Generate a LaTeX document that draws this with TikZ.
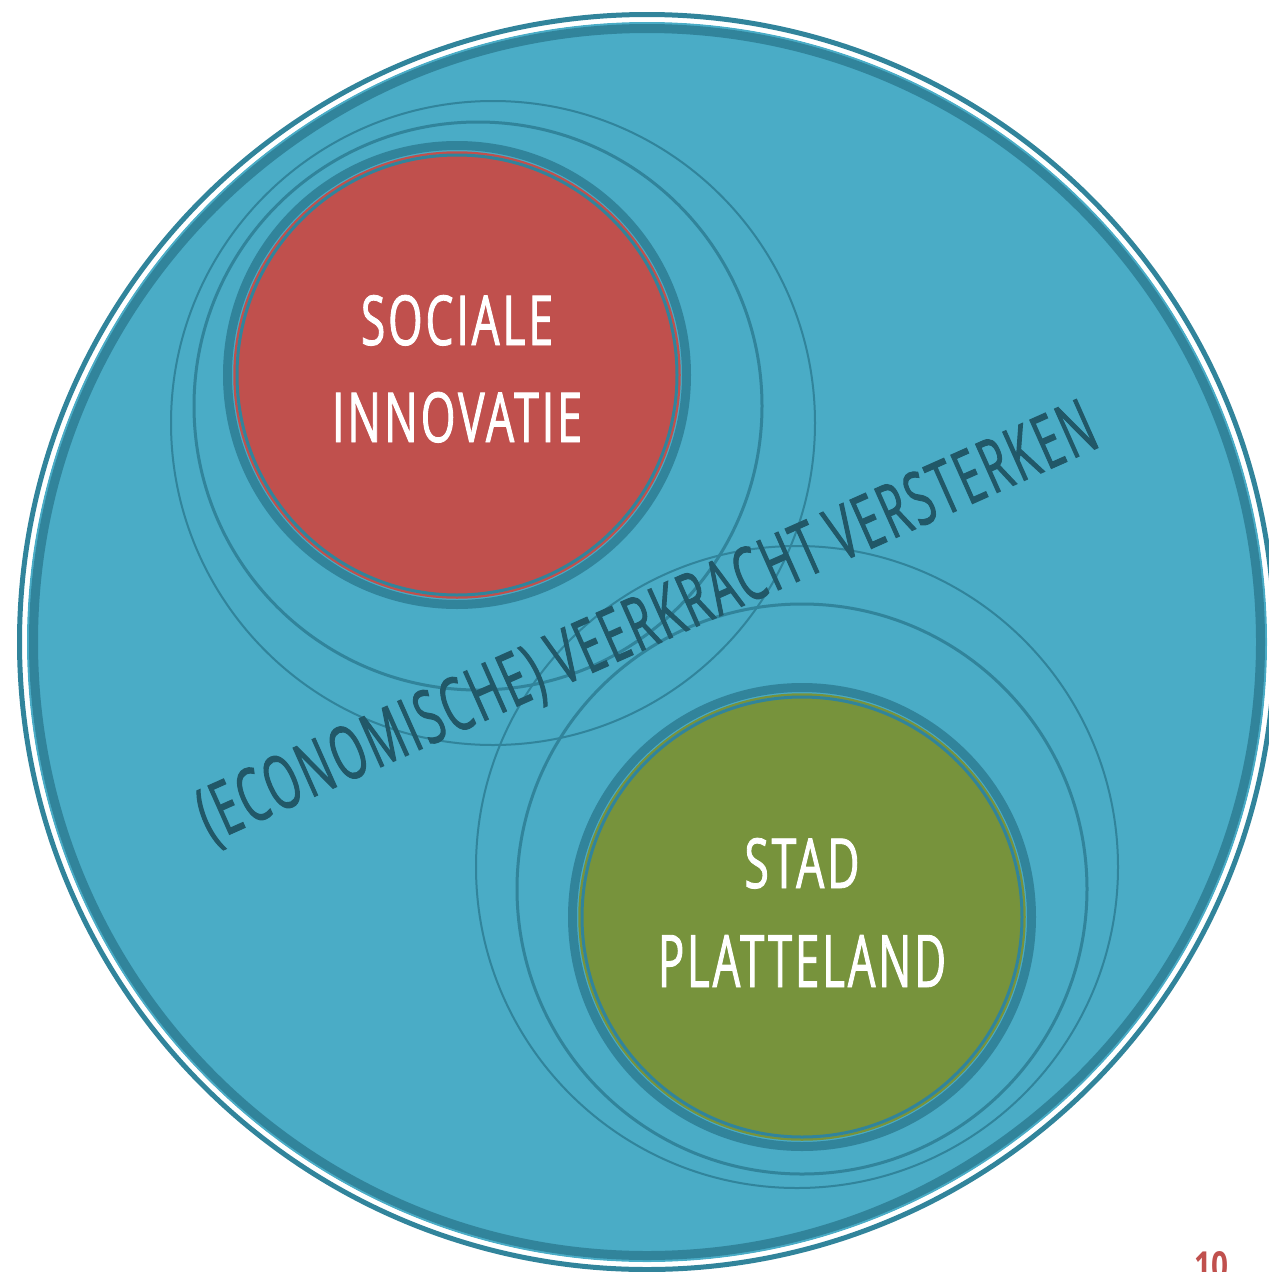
\documentclass[tikz,border=0pt]{standalone}
\usepackage{fontspec}
\setmainfont{Open Sans}
\newfontfamily\condfont[FakeStretch=0.6,LetterSpace=4,FakeBold=1.2]{Open Sans}
\newfontfamily\rotfont[FakeStretch=0.58,LetterSpace=4,FakeBold=1.3]{Open Sans}
\newfontfamily\pagefont[FakeStretch=0.8]{Open Sans}
\usepackage{graphicx}
\definecolor{aqua}{HTML}{4AACC6}
\definecolor{aquadark}{HTML}{31849B}
\definecolor{redfill}{HTML}{C0504D}
\definecolor{greenfill}{HTML}{77933C}
\definecolor{textteal}{HTML}{215868}
\tikzset{
  ring/.style={draw=aquadark, line width=#1},
  label/.style={inner sep=0pt, outer sep=0pt, text=white, anchor=base},
}
\begin{document}
\begin{tikzpicture}[x=1pt,y=-1pt]
\useasboundingbox (0,0) rectangle (1269,1272);
\clip (0,0) rectangle (1269,1272);
% big circle
\coordinate (big) at (647,642);
\fill[aqua] (big) circle[radius=620pt];
\draw[ring=9pt] (big) circle[radius=613.5pt];
\draw[white, line width=4pt] (big) circle[radius=622.5pt];
\draw[ring=5pt] (big) circle[radius=627.5pt];
% thin outer circles
\draw[ring=3pt] (478,406) circle[radius=284pt];
\draw[ring=2pt] (493,423) circle[radius=322pt];
\draw[ring=3pt] (802,889) circle[radius=285pt];
\draw[ring=2pt] (797,867) circle[radius=321pt];
% red circle
\coordinate (soc) at (457,375);
\draw[ring=9pt] (soc) circle[radius=229.5pt];
\draw[redfill, line width=2.5pt] (soc) circle[radius=222.5pt];
\fill[redfill] (soc) circle[radius=219pt];
\draw[aquadark, line width=3pt] (soc) circle[radius=220pt];
% green circle
\coordinate (stad) at (802,917);
\draw[ring=9pt] (stad) circle[radius=229.5pt];
\draw[greenfill, line width=2.5pt] (stad) circle[radius=222.5pt];
\fill[greenfill] (stad) circle[radius=219pt];
\draw[aquadark, line width=3pt] (stad) circle[radius=220pt];
% labels
\node[label] (l1) at (457,345) {\resizebox{192pt}{50pt}{\condfont SOCIALE}};
\node[label] (l2) at (457,442) {\resizebox{250pt}{50pt}{\condfont INNOVATIE}};
\node[label] (l3) at (802,888) {\resizebox{115pt}{50pt}{\condfont STAD}};
\node[label] (l4) at (802,987) {\resizebox{288pt}{52pt}{\condfont PLATTELAND}};
\node[inner sep=0pt, text=textteal, rotate=24] (main) at (648,625)
  {\resizebox{975pt}{54pt}{\rotfont (ECONOMISCHE) VEERKRACHT VERSTERKEN}};
\node[inner sep=0pt, text=redfill, anchor=north west] (pg) at (1194,1251)
  {\resizebox{34pt}{28pt}{\pagefont\bfseries 10}};
\end{tikzpicture}
\end{document}
